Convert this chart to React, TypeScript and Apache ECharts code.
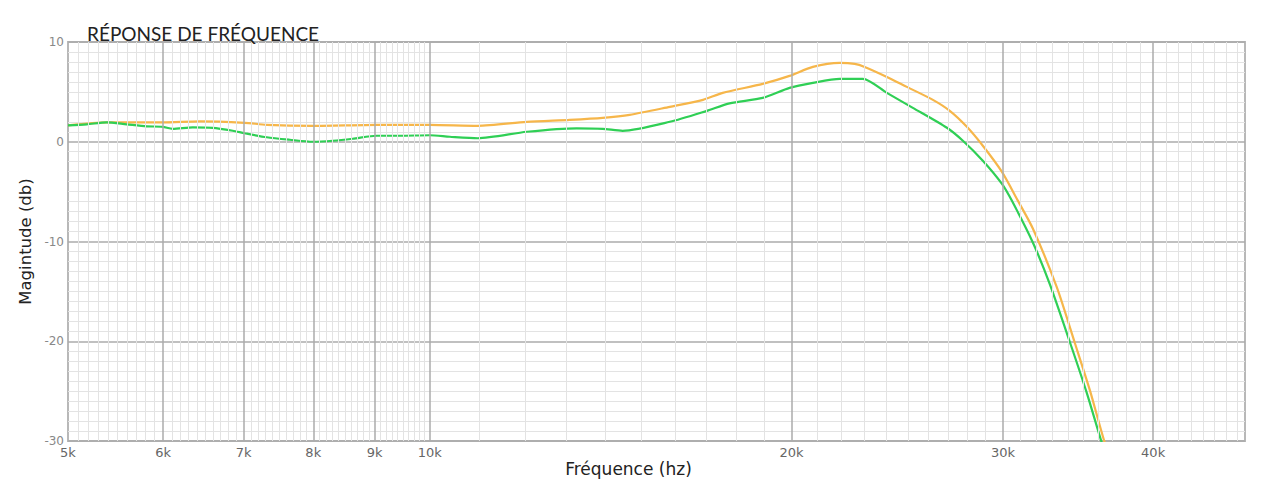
import React, { useEffect, useRef } from 'react';
import * as echarts from 'echarts';

// Frequency (Hz) / magnitude (dB)
const orangeFreq = [5000, 5385, 5994, 6435, 7015, 7318, 7993, 9034, 10000, 10965, 12045, 13081, 13931, 14670, 15842, 16883, 17533, 18930, 19928, 20839, 21941, 22576, 23012, 24014, 24950, 26230, 27092, 27992, 28862, 29931, 30864, 31765, 33262, 34433, 35432, 36467, 36880];
const orangeDb = [1.65, 1.95, 1.95, 2.05, 1.9, 1.7, 1.6, 1.7, 1.7, 1.6, 2.0, 2.2, 2.4, 2.7, 3.5, 4.2, 4.9, 5.8, 6.6, 7.5, 7.9, 7.8, 7.5, 6.5, 5.5, 4.2, 3.1, 1.5, -0.4, -3.0, -5.9, -8.7, -14.6, -20.2, -24.9, -30.2, -31.5];

const greenFreq = [5000, 5183, 5385, 5595, 5813, 5994, 6110, 6350, 6597, 6856, 7015, 7318, 7648, 7993, 8305, 8629, 9034, 9443, 10000, 10392, 10965, 12045, 13254, 13931, 14473, 15842, 17010, 17766, 18930, 19928, 20839, 21941, 22934, 24014, 25240, 26943, 27780, 28862, 29931, 30510, 31765, 32820, 34104, 35229, 36258, 36600];
const greenDb = [1.65, 1.75, 1.95, 1.75, 1.55, 1.5, 1.3, 1.45, 1.4, 1.1, 0.85, 0.45, 0.2, 0.0, 0.1, 0.3, 0.6, 0.6, 0.65, 0.5, 0.35, 1.0, 1.35, 1.3, 1.1, 2.0, 3.1, 3.85, 4.4, 5.4, 5.9, 6.3, 6.3, 4.9, 3.4, 1.4, 0.1, -1.9, -4.2, -5.9, -10.1, -14.3, -20.1, -25.2, -30.2, -31.5];

// Axis ticks
const majorTicks = [5000, 6000, 7000, 8000, 9000, 10000, 20000, 30000, 40000];
const majorLabels = ['5k', '6k', '7k', '8k', '9k', '10k', '20k', '30k', '40k'];
const minorRanges = [
  [5000, 10000, 100],
  [10000, 20000, 1000],
  [20000, 30000, 1000],
  [30000, 40000, 1000],
  [40000, 48000, 1000],
];
const xMin = 5000;
const xMax = 47700;
const yMin = -30;
const yMax = 10;

const ORANGE = '#f6b64a';
const GREEN = '#2fcf55';

export default function App() {
  const ref = useRef<HTMLDivElement>(null);
  useEffect(() => {
    if (!ref.current) return;
    const chart = echarts.init(ref.current, undefined, { renderer: 'svg' });

    const minorTicks: number[] = [];
    minorRanges.forEach(([a, b, s]) => {
      for (let v = a + s; v < b; v += s) {
        if (v < xMax && !majorTicks.includes(v)) minorTicks.push(v);
      }
    });

    const gridLines: any[] = [];
    minorTicks.forEach((v) => {
      gridLines.push({
        xAxis: v,
        lineStyle: { color: '#e3e3e3', width: 1, type: 'solid' },
        label: { show: false },
      });
    });
    majorTicks.forEach((v, i) => {
      gridLines.push({
        xAxis: v,
        lineStyle: { color: i === 0 ? 'rgba(0,0,0,0)' : '#ababab', width: 1.5, type: 'solid' },
        label: {
          show: true,
          position: 'start',
          formatter: majorLabels[i],
          color: '#666',
          fontSize: 13,
          fontFamily: 'DejaVu Sans',
          distance: 5,
        },
      });
    });

    chart.setOption({
      animation: false,
      backgroundColor: '#ffffff',
      title: {
        text: 'RÉPONSE DE FRÉQUENCE',
        left: 82,
        top: 19,
        textStyle: { fontSize: 19, fontWeight: 'normal', color: '#222', fontFamily: 'Lato' },
      },
      grid: {
        show: true,
        left: 68,
        top: 42,
        width: 1177,
        height: 399,
        borderColor: '#b8b8b8',
        borderWidth: 2,
      },
      xAxis: {
        type: 'log',
        logBase: 10,
        min: xMin,
        max: xMax,
        name: 'Fréquence (hz)',
        nameLocation: 'middle',
        nameGap: 19,
        nameTextStyle: { fontSize: 17, color: '#222', fontFamily: 'DejaVu Sans', padding: [0, 56, 0, 0] },
        axisLine: { show: false },
        axisTick: { show: false },
        axisLabel: { show: false },
        splitLine: { show: false },
      },
      yAxis: {
        type: 'value',
        min: yMin,
        max: yMax,
        interval: 10,
        name: 'Magintude (db)',
        nameLocation: 'middle',
        nameGap: 30,
        nameRotate: 90,
        nameTextStyle: { fontSize: 16.5, color: '#222', fontFamily: 'DejaVu Sans' },
        axisLine: { show: false },
        axisTick: { show: false },
        axisLabel: { color: '#888', fontSize: 12, fontFamily: 'DejaVu Sans', margin: 4 },
        splitLine: { show: true, lineStyle: { color: '#ababab', width: 1.5 } },
        minorTick: { show: false, splitNumber: 10 },
        minorSplitLine: { show: true, lineStyle: { color: '#e3e3e3', width: 1 } },
      },
      series: [
        {
          type: 'line',
          name: 'grid',
          data: [],
          silent: true,
          z: 1,
          markLine: {
            silent: true,
            symbol: ['none', 'none'],
            animation: false,
            data: gridLines,
          },
        },
        {
          type: 'line',
          name: 'orange',
          data: orangeFreq.map((f, i) => [f, orangeDb[i]]),
          showSymbol: false,
          smooth: 0.25,
          z: 3,
          lineStyle: { color: ORANGE, width: 2.2 },
          itemStyle: { color: ORANGE },
        },
        {
          type: 'line',
          name: 'green',
          data: greenFreq.map((f, i) => [f, greenDb[i]]),
          showSymbol: false,
          smooth: 0.25,
          z: 4,
          lineStyle: { color: GREEN, width: 2.2 },
          itemStyle: { color: GREEN },
        },
      ],
    });
    return () => chart.dispose();
  }, []);
  return (
    <div
      ref={ref}
      style={{ position: 'absolute', left: 0, top: 0, width: 1278, height: 500 }}
    />
  );
}
